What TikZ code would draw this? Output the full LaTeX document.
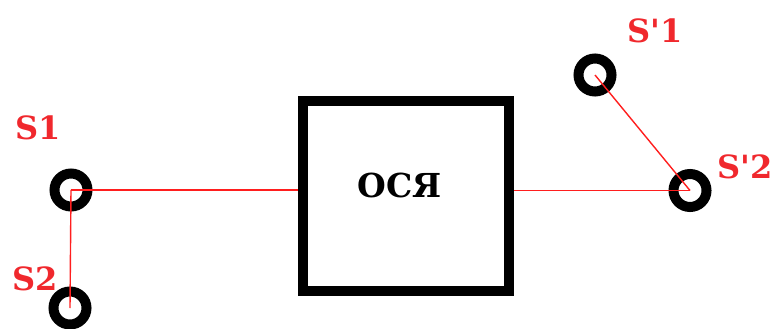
\documentclass[tikz,border=0pt]{standalone}
\usepackage{fontspec}
\setmainfont{DejaVu Serif}[Ligatures=TeXOff]
\definecolor{lblred}{RGB}{240,40,45}
\definecolor{linered}{RGB}{255,30,30}
\tikzset{
  ring/.style={circle, draw=black, line width=10pt, minimum size=33pt, inner sep=0pt},
  blackbox/.style={rectangle, draw=black, line width=10pt, minimum width=206pt, minimum height=190pt, inner sep=0pt},
  boxlbl/.style={font=\fontsize{33}{35}\selectfont\bfseries, inner sep=0pt},
  lbl/.style={text=lblred, font=\fontsize{32}{34}\selectfont\bfseries, inner sep=0pt},
  wire/.style={draw=linered, line width=1.4pt}
}
\begin{document}
\begin{tikzpicture}[x=1pt,y=-1pt]
\useasboundingbox (0,0) rectangle (774,329);
\node[blackbox] (box) at (406,195.5) {};
\node[boxlbl] (boxtext) at (399.5,185) {ОСЯ};
\node[ring] (s1) at (71,190) {};
\node[ring] (s2) at (70,308) {};
\node[ring] (s1p) at (595,75) {};
\node[ring] (s2p) at (690,190.5) {};
\node[lbl] (l1) at (38.5,128) {S1};
\node[lbl] (l2) at (35,279) {S2};
\node[lbl] (l1p) at (655,31) {S'1};
\node[lbl, anchor=west] (l2p) at (717,167) {S'2};
\draw[wire] (s1.center) -- (s1.center -| box.west);
\draw[wire] (s1.center) -- (s2.center);
\draw[wire] (box.east |- s2p.center) -- (s2p.center);
\draw[wire] (s1p.center) -- (s2p.center);
\end{tikzpicture}
\end{document}
